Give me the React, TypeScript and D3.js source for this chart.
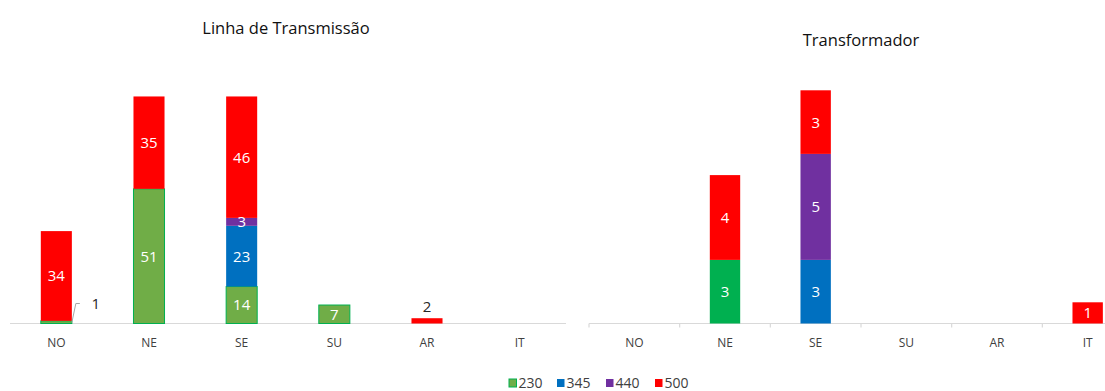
import React from "react";
import * as d3 from "d3";

const categories = ["NO", "NE", "SE", "SU", "AR", "IT"];
const seriesNames = ["230", "345", "440", "500"];
const seriesColors = ["#70AD47", "#0070C0", "#7030A0", "#FF0000"];

// Linha de Transmissão
const lt230 = [1, 51, 14, 7, 0, 0];
const lt345 = [0, 0, 23, 0, 0, 0];
const lt440 = [0, 0, 3, 0, 0, 0];
const lt500 = [34, 35, 46, 0, 2, 0];

// Transformador
const tr230 = [0, 3, 0, 0, 0, 0];
const tr345 = [0, 0, 3, 0, 0, 0];
const tr440 = [0, 0, 5, 0, 0, 0];
const tr500 = [0, 4, 3, 0, 0, 1];

const FONT = "'Open Sans', 'Noto Sans', sans-serif";

type Panel = {
  title: string;
  titleX: number;
  titleY: number;
  x0: number;
  x1: number;
  yMax: number;
  yTop: number;
  series: number[][];
  green: string;
  greenStroke: string;
  ticks: boolean;
  clipRight: number;
};

const BASE = 323.5;

function PanelChart({ p, idx }: { p: Panel; idx: number }) {
  const x = d3.scaleBand<string>().domain(categories).range([p.x0, p.x1]).paddingInner(0.665).paddingOuter(0.3325);
  const y = d3.scaleLinear().domain([0, p.yMax]).range([BASE, p.yTop]);
  const rows = categories.map((c, i) => {
    const o: any = { cat: c };
    seriesNames.forEach((s, k) => (o[s] = p.series[k][i]));
    return o;
  });
  const stack = d3.stack<any>().keys(seriesNames)(rows);
  const step = x.step();
  const colors = [p.green, seriesColors[1], seriesColors[2], seriesColors[3]];
  return (
    <g>
      <text x={p.titleX} y={p.titleY} textAnchor="middle" fontFamily={FONT} fontSize={16.5} fill="#111">
        {p.title}
      </text>
      <line x1={p.x0} x2={Math.min(p.x1, p.clipRight)} y1={BASE} y2={BASE} stroke="#D9D9D9" strokeWidth={1.2} />
      {p.ticks &&
        d3.range(categories.length + 1).map((i) => {
          const tx = p.x0 + i * step;
          if (tx > p.clipRight) return null;
          return <line key={"t" + i} x1={tx} x2={tx} y1={BASE} y2={BASE + 4} stroke="#D9D9D9" strokeWidth={1.2} />;
        })}
      {stack.map((layer, k) =>
        layer.map((d, i) => {
          const v = d[1] - d[0];
          if (v <= 0) return null;
          const bx = x(categories[i])!;
          const yTop = y(d[1]);
          const h = y(d[0]) - y(d[1]);
          return (
            <rect
              key={`r${k}-${i}`}
              x={bx}
              y={yTop}
              width={x.bandwidth()}
              height={h}
              fill={colors[k]}
              stroke={k === 0 ? p.greenStroke : "none"}
              strokeWidth={k === 0 ? 1 : 0}
            />
          );
        })
      )}
      {stack.map((layer, k) =>
        layer.map((d, i) => {
          const v = d[1] - d[0];
          if (v <= 0) return null;
          const cx = x(categories[i])! + x.bandwidth() / 2;
          const h = y(d[0]) - y(d[1]);
          const cy = (y(d[0]) + y(d[1])) / 2;
          if (idx === 0 && categories[i] === "NO" && k === 0) {
            const bx = x(categories[i])! + x.bandwidth();
            return (
              <g key={`l${k}-${i}`}>
                <polyline
                  points={`${bx},${BASE - 1} ${bx + 4},${BASE - 20} ${bx + 8},${BASE - 20}`}
                  fill="none"
                  stroke="#A6A6A6"
                  strokeWidth={1}
                />
                <text x={bx + 24} y={BASE - 15} textAnchor="middle" fontFamily={FONT} fontSize={15} fill="#262626">
                  {v}
                </text>
              </g>
            );
          }
          if (h < 10 && k !== 2) {
            return (
              <text key={`l${k}-${i}`} x={cx} y={y(d[1]) - 6} textAnchor="middle" fontFamily={FONT} fontSize={15} fill="#262626">
                {v}
              </text>
            );
          }
          return (
            <text
              key={`l${k}-${i}`}
              x={cx}
              y={cy}
              dy="0.36em"
              textAnchor="middle"
              fontFamily={FONT}
              fontSize={15}
              fill="#FFFFFF"
            >
              {v}
            </text>
          );
        })
      )}
      {categories.map((c) => (
        <text
          key={"c" + c}
          x={x(c)! + x.bandwidth() / 2}
          y={347}
          textAnchor="middle"
          fontFamily={FONT}
          fontSize={12}
          fill="#404040"
        >
          {c}
        </text>
      ))}
    </g>
  );
}

export default function App() {
  const panels: Panel[] = [
    {
      title: "Linha de Transmissão",
      titleX: 286,
      titleY: 34,
      x0: 10,
      x1: 566,
      yMax: 100,
      yTop: BASE - 264,
      series: [lt230, lt345, lt440, lt500],
      green: "#70AD47",
      greenStroke: "#00B050",
      ticks: false,
      clipRight: 566,
    },
    {
      title: "Transformador",
      titleX: 861,
      titleY: 46,
      x0: 589,
      x1: 1133,
      yMax: 12,
      yTop: BASE - 254.4,
      series: [tr230, tr345, tr440, tr500],
      green: "#00B050",
      greenStroke: "none",
      ticks: true,
      clipRight: 1105,
    },
  ];
  const legendX = [509, 557, 606, 655];
  return (
    <svg width={1105} height={391} style={{ position: "absolute", left: 0, top: 0, background: "#fff" }}>
      <rect width={1105} height={391} fill="#fff" />
      {panels.map((p, i) => (
        <PanelChart key={i} p={p} idx={i} />
      ))}
      {seriesNames.map((s, k) => (
        <g key={"lg" + s} transform={`translate(${legendX[k]},379)`}>
          <rect
            width={7.5}
            height={8}
            fill={seriesColors[k]}
            stroke={k === 0 ? "#00B050" : "none"}
            strokeWidth={k === 0 ? 1 : 0}
          />
          <text x={9.5} y={9} fontFamily={FONT} fontSize={14} fill="#404040">
            {s}
          </text>
        </g>
      ))}
    </svg>
  );
}
